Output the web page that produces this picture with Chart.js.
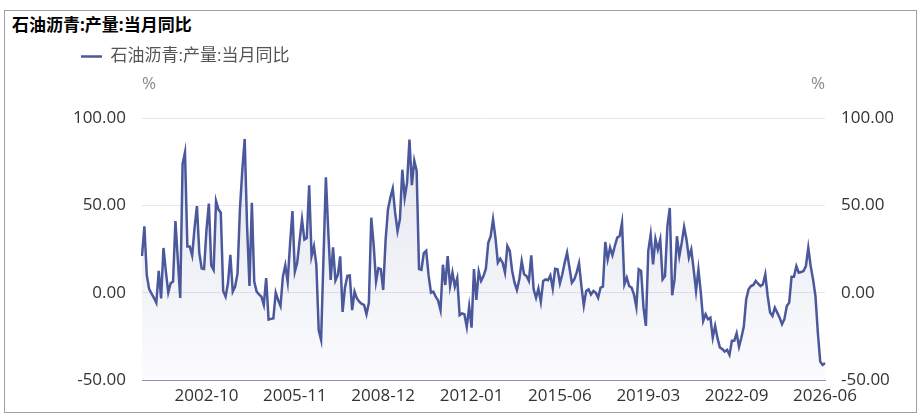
<!DOCTYPE html>
<html>
<head>
<meta charset="utf-8">
<script src="https://cdn.jsdelivr.net/npm/chart.js@4.4.1/dist/chart.umd.min.js"></script>
<style>
  body { margin:0; background:#fff; font-family:'Open Sans','Noto Sans CJK SC',sans-serif; }
  #moldura { position:absolute; left:4px; top:10px; width:913px; height:403px; border:1px solid #a0a0a0; box-sizing:border-box; }
  #titulo { position:absolute; left:12px; top:14px; font-weight:bold; font-size:17px; line-height:22px; color:#000; }
  #caixa { position:absolute; left:5px; top:38px; width:910px; height:373px; }
</style>
</head>
<body>
<div id="moldura"></div>
<div id="titulo">石油沥青:产量:当月同比</div>
<div id="caixa"><canvas id="chart"></canvas></div>
<script>
// Dados do gráfico
const seriesName = '石油沥青:产量:当月同比';
const firstMonth = [2000, 7];
const lastMonth = [2026, 6];
// meses sem dado (jan/fev agregados)
const missingMonths = ['2013-01','2014-01','2015-01','2015-02',
  '2016-01','2016-02','2017-01','2017-02','2018-01','2018-02','2019-01','2019-02',
  '2020-01','2020-02','2021-01','2022-01','2022-02',
  '2023-01','2023-02','2024-01','2024-02','2025-01','2025-02','2026-01','2026-02'];
const tickLabels = ['2002-10','2005-11','2008-12','2012-01','2015-06','2019-03','2022-09','2026-06'];
const yMin = -50, yMax = 100, yStep = 50;

const values = [
  21, 38, 10, 2, -0.5, -3, -5.8, 12.5, -3.3, 25.6,
  12, 0, 5.4, 6.3, 41, 19, -3, 73.7, 80.4, 26.5,
  26.5, 21.3, 37, 49.6, 22.7, 13.8, 13.5, 36, 51, 15.6,
  13, 52.5, 47.7, 45.8, 1, -2.3, 5.4, 21.7, 0.6, 3.5,
  11, 47.7, 70, 88, 38, 3.8, 51.5, 6.3, 0.6, -1,
  -2.3, -7, 8.3, -15.4, -15, -14.8, 0, -4.2, -7.7, 9.2,
  15.6, 6.3, 28, 46.7, 12, 17.3, 30, 42, 30.4, 31.3,
  61.5, 20.8, 26.5, 16, -21.5, -27, 20, 66, 35, 7.3,
  26, 7, 10.2, 20.8, -11, 3, 9.6, 9.8, -10, 0.6,
  -3.3, -5.2, -6.5, -7, -12.3, -5.8, 42.9, 27.5, 6.3, 14,
  13.5, 1.5, 30, 47.7, 54.4, 59.6, 45.8, 35.2, 42, 70.4,
  54.4, 63, 87.7, 61.5, 75.6, 69.8, 13.5, 13.1, 22.7, 24,
  10, 0, 0.6, -2.3, -4.6, -10, 16, 4.4, 21, 3.8,
  11.5, 3.5, 8.3, -12.9, -11.9, -12.3, -19.6, -8, -20, 13.5,
  -4.2, 12.1, 6.7, 9.5, 13.7, 28.6, 32.4, 42, 31.5, 17.2,
  19.5, 17.2, 11.5, 26.7, 23.9, 12.4, 5.7, 1.5, 7.6, 18.1,
  10.5, 9.5, 6.7, 21.4, 1.9, -2.9, 2.3, -5.3, 6.7, 7.6,
  7.1, 9.9, 2.3, 13.7, 13.4, 5.3, 10.5, 17.2, 22.9, 14.3,
  5.7, 7.6, 11.5, 16.8, 3.8, -7.3, 1, 1.9, -1, 1,
  0, -2.9, 2.9, 3.4, 29, 19.1, 25.8, 21.4, 26.7, 31.5,
  32.4, 40, 4.8, 8.6, 3.8, 2.9, -1, -8.2, 13.4, 12.4,
  -8.6, -19, 24, 33.3, 16.2, 30.8, 24.7, 30.4, 7.6, 9.5,
  38, 48.5, -1.5, 7.6, 32.3, 20.9, 28.5, 37.6, 30.4, 20,
  24.7, 13.3, 1, 13.3, 0, -16.2, -12.4, -15.2, -14.3, -25.7,
  -19, -26.2, -31.4, -32.3, -33.7, -32.7, -35.6, -27.6, -27.6, -23.2,
  -31, -25.7, -19.4, -3.8, 1.9, 3.8, 4.4, 6.7, 5.1, 3.8,
  4.8, 10.5, -1.9, -11.4, -13.3, -8.6, -11.4, -14.3, -18.1, -15.2,
  -7.6, -5.7, 9.1, 9.1, 15.2, 11.4, 11.8, 12.4, 15.2, 25.7,
  15.2, 7.6, -1.9, -22.8, -39.5, -41.4, -40.3
];

function buildLabels() {
  const out = [];
  let y = firstMonth[0], m = firstMonth[1];
  while (y < lastMonth[0] || (y === lastMonth[0] && m <= lastMonth[1])) {
    const s = y + '-' + String(m).padStart(2, '0');
    if (!missingMonths.includes(s)) out.push(s);
    m++;
    if (m > 12) { m = 1; y++; }
  }
  return out;
}
const labels = buildLabels();

const lineColor = '#4b589c';
const tickColor = '#333';
const tickFont = { family: "'Open Sans','Noto Sans CJK SC'", size: 17 };

// espaço entre a legenda e o gráfico
const legendGap = {
  id: 'legendGap',
  beforeInit(chart) {
    const fitOriginal = chart.legend.fit;
    chart.legend.fit = function () {
      fitOriginal.bind(chart.legend)();
      this.height += 43;
    };
  }
};

// "%" em cima dos dois eixos
const unitLabels = {
  id: 'unitLabels',
  afterDraw(chart) {
    const { ctx, chartArea } = chart;
    ctx.save();
    ctx.font = "17px 'Open Sans'";
    ctx.fillStyle = '#888';
    ctx.textBaseline = 'middle';
    ctx.textAlign = 'left';
    ctx.fillText('%', chartArea.left, chartArea.top - 34);
    ctx.textAlign = 'right';
    ctx.fillText('%', chartArea.right, chartArea.top - 34);
    ctx.restore();
  }
};

function fillGradient(context) {
  const { ctx, chartArea } = context.chart;
  if (!chartArea) return 'rgba(75,88,156,0.08)';
  const g = ctx.createLinearGradient(0, chartArea.top, 0, chartArea.bottom);
  g.addColorStop(0, 'rgba(75,88,156,0.16)');
  g.addColorStop(1, 'rgba(75,88,156,0.02)');
  return g;
}

const config = {
  type: 'line',
  data: {
    labels: labels,
    datasets: [{
      label: seriesName,
      data: values,
      borderColor: lineColor,
      borderWidth: 2.5,
      backgroundColor: fillGradient,
      fill: 'start',
      pointRadius: 0,
      tension: 0
    }]
  },
  options: {
    responsive: true,
    maintainAspectRatio: false,
    animation: false,
    events: [],
    layout: { padding: { left: 66, right: 22, top: 0, bottom: 5 } },
    plugins: {
      legend: {
        display: true,
        position: 'top',
        align: 'start',
        labels: {
          usePointStyle: true,
          pointStyle: 'line',
          pointStyleWidth: 21,
          padding: 10,
          color: '#555',
          font: { family: "'Open Sans','Noto Sans CJK SC'", size: 17 }
        }
      },
      tooltip: { enabled: false }
    },
    scales: {
      x: {
        type: 'category',
        grid: { display: false, drawTicks: false },
        border: { display: true, color: '#8892c4', width: 1 },
        afterBuildTicks: axis => {
          axis.ticks = axis.ticks.filter(t => tickLabels.includes(labels[t.value]));
        },
        afterFit: s => { s.height = 26; },
        ticks: {
          autoSkip: false,
          maxRotation: 0,
          minRotation: 0,
          padding: 6,
          color: tickColor,
          font: tickFont
        }
      },
      y: {
        position: 'left',
        min: yMin,
        max: yMax,
        grid: { color: '#e6e6f2', drawTicks: false },
        border: { display: false },
        afterFit: s => { s.width = 71; },
        ticks: {
          stepSize: yStep,
          padding: 16,
          color: tickColor,
          font: tickFont,
          callback: v => v.toFixed(2)
        }
      },
      y2: {
        position: 'right',
        min: yMin,
        max: yMax,
        grid: { display: false, drawTicks: false },
        border: { display: false },
        afterFit: s => { s.width = 68; },
        ticks: {
          stepSize: yStep,
          padding: 16,
          color: tickColor,
          font: tickFont,
          callback: v => v.toFixed(2)
        }
      }
    }
  },
  plugins: [legendGap, unitLabels]
};

const myChart = new Chart(document.getElementById('chart'), config);
</script>
</body>
</html>
